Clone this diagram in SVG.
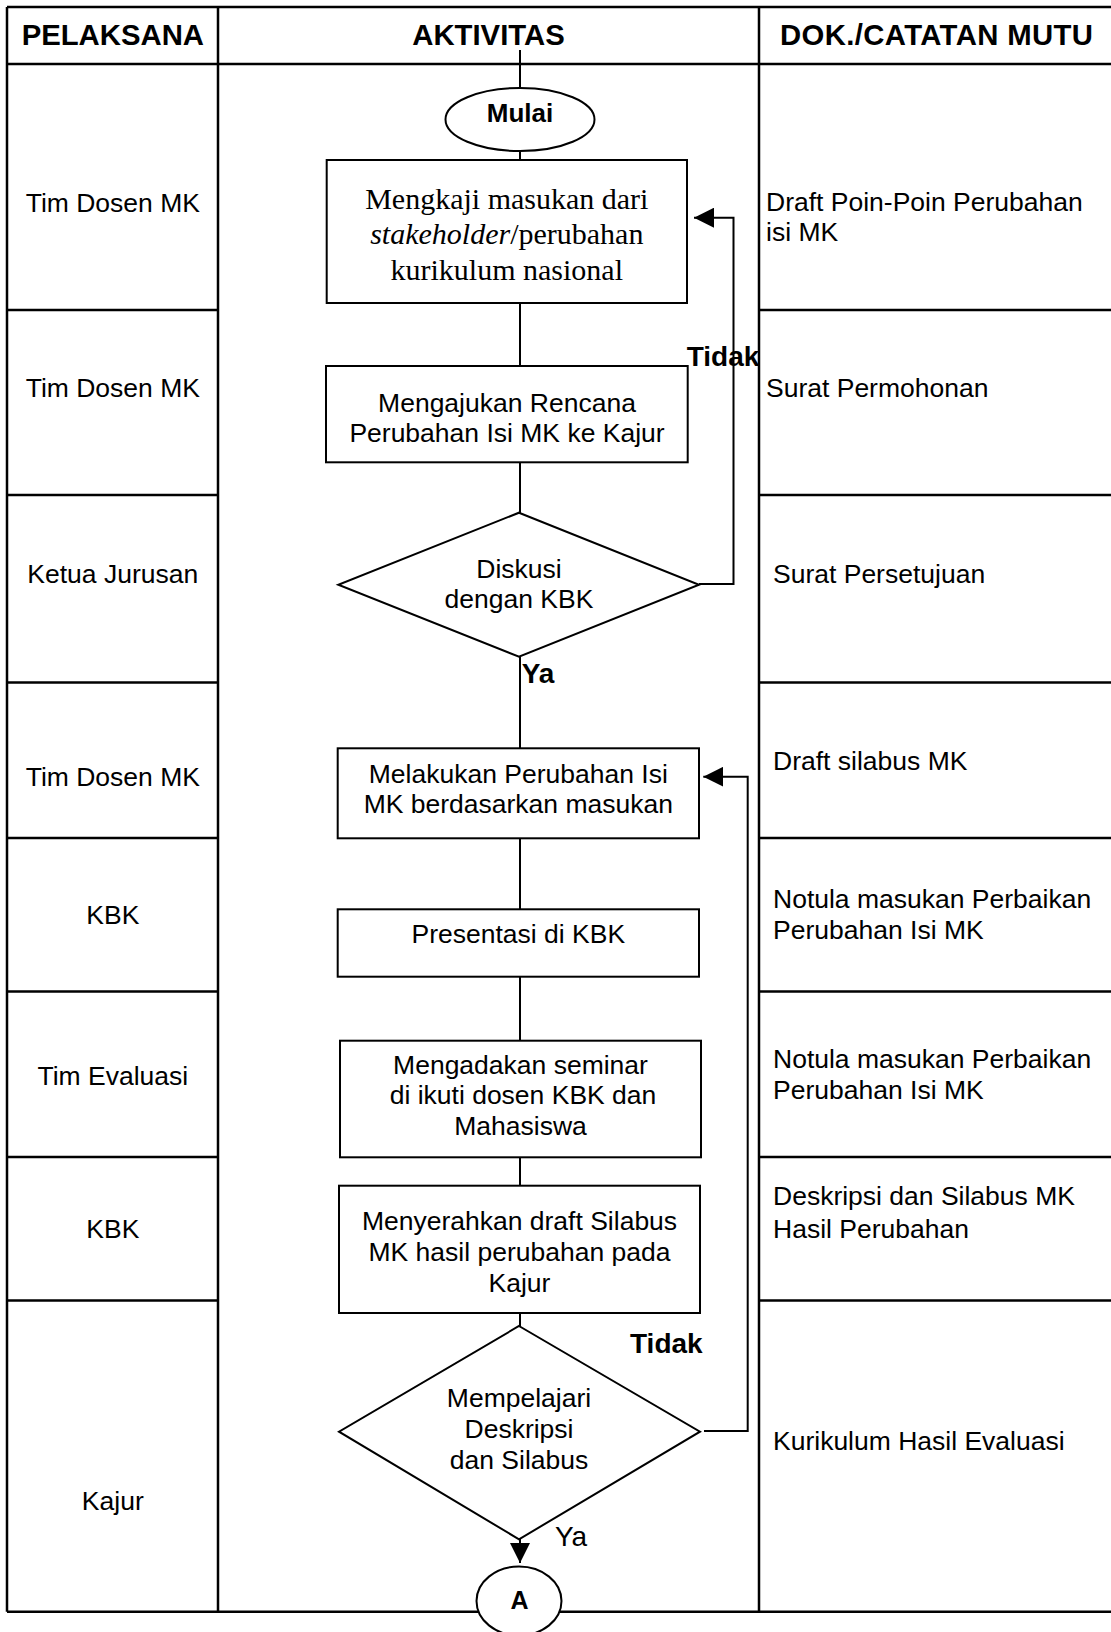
<svg xmlns="http://www.w3.org/2000/svg" width="1111" height="1632" viewBox="0 0 1111 1632">
<defs>
<style>
.t{font-family:"Liberation Sans",Arial,sans-serif;font-size:26.5px;fill:#000}
.b{font-weight:bold}
.h{font-family:"Liberation Sans",Arial,sans-serif;font-size:29.3px;font-weight:bold;fill:#000}
.s{font-family:"Liberation Serif","Times New Roman",serif;font-size:30px;fill:#000}
.grid{stroke:#000;stroke-width:2.5;fill:none}
.shape{stroke:#000;stroke-width:2;fill:#fff}
.conn{stroke:#000;stroke-width:2;fill:none}
.m{text-anchor:middle}
</style>
<marker id="arr" markerUnits="userSpaceOnUse" markerWidth="20" markerHeight="20" refX="20" refY="10" orient="auto">
<path d="M0,0 L20,10 L0,20 z" fill="#000"/>
</marker>
</defs>
<rect width="1111" height="1632" fill="#fff"/>
<g id="table" class="grid">
<line x1="7" y1="7" x2="1111" y2="7"/>
<line x1="7" y1="64" x2="1111" y2="64"/>
<line x1="7" y1="310" x2="218" y2="310"/>
<line x1="759" y1="310" x2="1111" y2="310"/>
<line x1="7" y1="495" x2="218" y2="495"/>
<line x1="759" y1="495" x2="1111" y2="495"/>
<line x1="7" y1="682.5" x2="218" y2="682.5"/>
<line x1="759" y1="682.5" x2="1111" y2="682.5"/>
<line x1="7" y1="838" x2="218" y2="838"/>
<line x1="759" y1="838" x2="1111" y2="838"/>
<line x1="7" y1="991.5" x2="218" y2="991.5"/>
<line x1="759" y1="991.5" x2="1111" y2="991.5"/>
<line x1="7" y1="1157" x2="218" y2="1157"/>
<line x1="759" y1="1157" x2="1111" y2="1157"/>
<line x1="7" y1="1300.5" x2="218" y2="1300.5"/>
<line x1="759" y1="1300.5" x2="1111" y2="1300.5"/>
<line x1="7" y1="1611.7" x2="1111" y2="1611.7"/>
<line x1="7" y1="7" x2="7" y2="1611.7"/>
<line x1="218" y1="7" x2="218" y2="1611.7"/>
<line x1="759" y1="7" x2="759" y2="1611.7"/>
</g>
<g id="headers">
<text class="h m" x="112.8" y="44.5">PELAKSANA</text>
<text class="h m" x="488.5" y="44.5">AKTIVITAS</text>
<text class="h" x="780" y="44.5" textLength="313">DOK./CATATAN MUTU</text>
</g>
<g id="pelaksana" class="t m">
<text x="112.8" y="211.7">Tim Dosen MK</text>
<text x="112.8" y="396.7">Tim Dosen MK</text>
<text x="112.8" y="583.3">Ketua Jurusan</text>
<text x="112.8" y="786">Tim Dosen MK</text>
<text x="112.8" y="924">KBK</text>
<text x="112.8" y="1084.5">Tim Evaluasi</text>
<text x="112.8" y="1238">KBK</text>
<text x="112.8" y="1510">Kajur</text>
</g>
<g id="dokumen" class="t">
<text x="766" y="211">Draft Poin-Poin Perubahan</text>
<text x="766" y="241">isi MK</text>
<text x="766" y="396.7">Surat Permohonan</text>
<text x="773" y="583.3">Surat Persetujuan</text>
<text x="773" y="770">Draft silabus MK</text>
<text x="773" y="908.3">Notula masukan Perbaikan</text>
<text x="773" y="939.3">Perubahan Isi MK</text>
<text x="773" y="1068.3">Notula masukan Perbaikan</text>
<text x="773" y="1099">Perubahan Isi MK</text>
<text x="773" y="1205">Deskripsi dan Silabus MK</text>
<text x="773" y="1237.7">Hasil Perubahan</text>
<text x="773" y="1449.5">Kurikulum Hasil Evaluasi</text>
</g>
<g id="connectors" class="conn">
<line x1="520" y1="50" x2="520" y2="88"/>
<line x1="520" y1="151" x2="520" y2="160"/>
<line x1="520" y1="303" x2="520" y2="366"/>
<line x1="520" y1="462" x2="520" y2="513"/>
<line x1="520" y1="657" x2="520" y2="748"/>
<line x1="520" y1="838" x2="520" y2="909"/>
<line x1="520" y1="977" x2="520" y2="1041"/>
<line x1="520" y1="1157" x2="520" y2="1186"/>
<line x1="520" y1="1313" x2="520" y2="1326"/>
<line x1="520" y1="1539" x2="520" y2="1563" marker-end="url(#arr)"/>
<polyline points="699,584 733.5,584 733.5,217.7 694,217.7" marker-end="url(#arr)"/>
<polyline points="704,1431 747.7,1431 747.7,776.7 703.3,776.7" marker-end="url(#arr)"/>
</g>
<g id="labels">
<text class="t b" style="font-size:28px" x="686.7" y="365.7">Tidak</text>
<text class="t b" style="font-size:28px" x="521.7" y="683.3">Ya</text>
<text class="t b" style="font-size:28px" x="630" y="1352.7">Tidak</text>
<text class="t" style="font-size:28px" x="555" y="1545.7">Ya</text>
</g>
<g id="mulai">
<ellipse class="shape" cx="520" cy="119.5" rx="74.5" ry="31.5"/>
<text class="t b m" style="font-size:26px" x="520" y="121.5">Mulai</text>
</g>
<g id="mengkaji">
<rect class="shape" x="326.7" y="160" width="360.3" height="143"/>
<text class="s m" x="506.8" y="209">Mengkaji masukan dari</text>
<text class="s m" x="506.8" y="244"><tspan font-style="italic">stakeholder</tspan>/perubahan</text>
<text class="s m" x="506.8" y="280">kurikulum nasional</text>
</g>
<g id="mengajukan">
<rect class="shape" x="326" y="366" width="361.7" height="96.3"/>
<text class="t m" x="507" y="411.7">Mengajukan Rencana</text>
<text class="t m" x="507" y="441.7">Perubahan Isi MK ke Kajur</text>
</g>
<g id="diskusi">
<polygon class="shape" points="519,512.7 699,584.7 519,656.7 338.3,584.7"/>
<text class="t m" x="519" y="577.7">Diskusi</text>
<text class="t m" x="519" y="608.3">dengan KBK</text>
</g>
<g id="melakukan">
<rect class="shape" x="337.7" y="748.3" width="361.3" height="90"/>
<text class="t m" x="518.3" y="782.7">Melakukan Perubahan Isi</text>
<text class="t m" x="518.3" y="812.7">MK berdasarkan masukan</text>
</g>
<g id="presentasi">
<rect class="shape" x="337.7" y="909.3" width="361.3" height="67.4"/>
<text class="t m" x="518.3" y="942.7">Presentasi di KBK</text>
</g>
<g id="seminar">
<rect class="shape" x="340" y="1040.7" width="361" height="116.6"/>
<text class="t m" x="520.5" y="1074">Mengadakan seminar</text>
<text class="t m" x="523" y="1104.3">di ikuti dosen KBK dan</text>
<text class="t m" x="520.5" y="1135">Mahasiswa</text>
</g>
<g id="menyerahkan">
<rect class="shape" x="339" y="1185.7" width="361" height="127.3"/>
<text class="t m" x="519.5" y="1230">Menyerahkan draft Silabus</text>
<text class="t m" x="519.5" y="1261">MK hasil perubahan pada</text>
<text class="t m" x="519.5" y="1291.7">Kajur</text>
</g>
<g id="mempelajari">
<polygon class="shape" points="519,1326 700,1431.7 519,1539.3 339,1431.7"/>
<text class="t m" x="519" y="1407.3">Mempelajari</text>
<text class="t m" x="519" y="1438.3">Deskripsi</text>
<text class="t m" x="519" y="1469.3">dan Silabus</text>
</g>
<g id="konektorA">
<ellipse class="shape" cx="519" cy="1601" rx="42.5" ry="34.5"/>
<text class="t b m" style="font-size:25px" x="519.5" y="1609.3">A</text>
</g>
</svg>
